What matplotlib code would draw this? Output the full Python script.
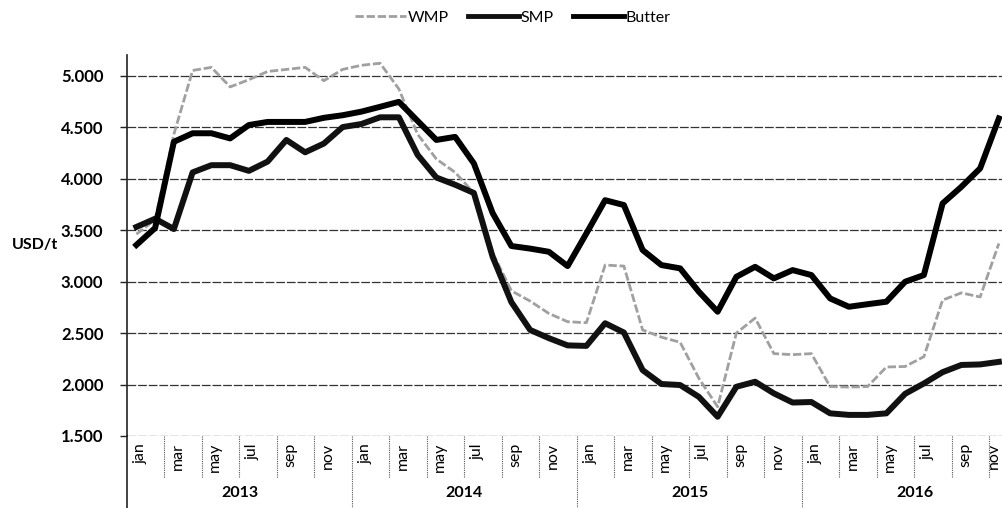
import matplotlib
matplotlib.use("Agg")
import matplotlib.pyplot as plt
import matplotlib.transforms as mtransforms
from matplotlib.lines import Line2D

plt.rcParams['font.family'] = ['Lato', 'DejaVu Sans']

# monthly prices, Jan 2013 - Nov 2016 (USD/t)
years = ['2013', '2014', '2015', '2016']
month_labels = ['jan', 'mar', 'may', 'jul', 'sep', 'nov']

wmp = [3460, 3600, 4430, 5050, 5080, 4890, 4960, 5040, 5060, 5080, 4950, 5060,
       5100, 5120, 4870, 4430, 4190, 4060, 3860, 3280, 2910, 2810, 2690, 2610,
       2600, 3160, 3150, 2530, 2460, 2410, 2060, 1784, 2500, 2645, 2300, 2290,
       2300, 1980, 1975, 1980, 2170, 2175, 2270, 2820, 2890, 2850, 3370]
smp = [3530, 3610, 3510, 4060, 4130, 4130, 4075, 4165, 4375, 4255, 4340, 4500,
       4530, 4595, 4595, 4230, 4010, 3940, 3860, 3240, 2800, 2530, 2450, 2380,
       2375, 2595, 2505, 2140, 2005, 1995, 1880, 1687, 1978, 2027, 1914, 1825,
       1830, 1720, 1705, 1705, 1720, 1910, 2010, 2120, 2190, 2195, 2220]
butter = [3355, 3520, 4357, 4440, 4440, 4390, 4520, 4550, 4550, 4550, 4590, 4615,
          4650, 4697, 4745, 4560, 4375, 4405, 4147, 3665, 3345, 3320, 3289, 3150,
          3467, 3790, 3743, 3306, 3160, 3128, 2901, 2707, 3046, 3143, 3031, 3111,
          3063, 2836, 2755, 2780, 2804, 2998, 3063, 3759, 3920, 4099, 4584]

x = list(range(len(wmp)))

W, H = 1003, 508
fig = plt.figure(figsize=(W / 100, H / 100), dpi=100)
ax = fig.add_axes([127 / W, (H - 436) / H, 1 - 127 / W, (436 - 55) / H])

ax.plot(x, wmp, color='#a0a0a0', lw=2.0, ls=(0, (3, 1)), label='WMP', zorder=3)
ax.plot(x, smp, color='#111111', lw=4.3, label='SMP', zorder=4)
ax.plot(x, butter, color='#000000', lw=4.3, label='Butter', zorder=5)

ax.set_xlim(-0.5, 46.22)
ax.set_ylim(1500, 5200)
yt = [1500, 2000, 2500, 3000, 3500, 4000, 4500, 5000]
ax.set_yticks(yt)
ax.set_yticklabels([f"{v:,}".replace(',', '.') for v in yt],
                   fontsize=12, fontweight='bold')
ax.tick_params(axis='y', length=5, width=1, pad=12, color='#222222')
ax.set_xticks([])
ax.yaxis.grid(True, color='#333333', lw=0.9, ls=(0, (7, 1.5)))
ax.set_axisbelow(True)
for s in ['top', 'right', 'bottom']:
    ax.spines[s].set_visible(False)
ax.spines['left'].set_color('#222222')
ax.spines['left'].set_linewidth(1.2)

# multi-level category axis below the plot
trans = mtransforms.blended_transform_factory(ax.transData, ax.transAxes)
ph = 436 - 55
for k in range(24):
    xb = -0.5 + 2 * k
    if k % 6 == 0:
        y1 = -(508 - 436) / ph - 0.02
        ax.plot([xb, xb], [0, y1], transform=trans, clip_on=False,
                color='#555555' if k else '#222222', lw=1.2 if k == 0 else 0.8,
                ls='-' if k == 0 else (0, (1, 1)))
    else:
        ax.plot([xb, xb], [0, -42 / ph], transform=trans, clip_on=False,
                color='#555555', lw=0.8, ls=(0, (1, 1)))
for yi in range(4):
    for mi, lab in enumerate(month_labels):
        xi = yi * 12 + mi * 2
        xpos = xi + 0.2 if xi < 46 else xi - 0.25
        ax.text(xpos, -7 / ph, lab, transform=trans, rotation=90,
                ha='center', va='top', fontsize=11.5)
    ax.text(yi * 12 + 5.5, -57 / ph, years[yi], transform=trans,
            ha='center', va='center', fontsize=11.5, fontweight='bold')

fig.text(35 / W, 1 - 245 / H, 'USD/t', ha='center', va='center',
         fontsize=11.5, fontweight='bold')

handles = [Line2D([], [], color='#a0a0a0', lw=2.0, ls=(0, (3, 1))),
           Line2D([], [], color='#111111', lw=3.5),
           Line2D([], [], color='#000000', lw=3.5)]
fig.legend(handles, ['WMP', 'SMP', 'Butter'], loc='center',
           bbox_to_anchor=(0.511, 1 - 18 / H), ncol=3, frameon=False,
           fontsize=11.5, handlelength=3.2, handletextpad=0.1, columnspacing=1.2)

fig.savefig('out.png', dpi=100)
